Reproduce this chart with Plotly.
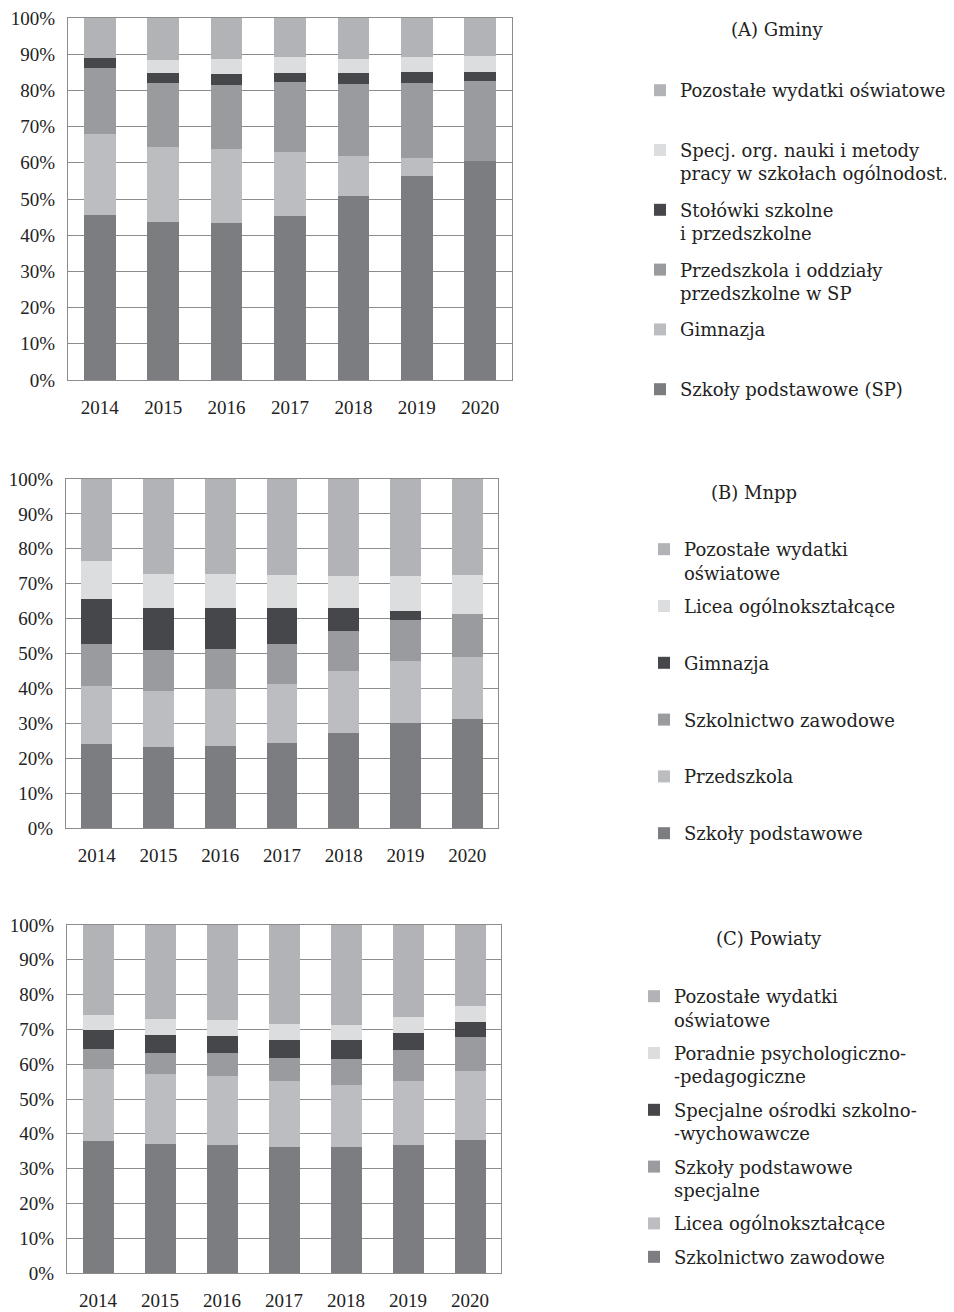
import plotly.graph_objects as go

years = ["2014", "2015", "2016", "2017", "2018", "2019", "2020"]

# (A) Gminy - udzialy w %
gm_sp = [45.5, 43.6, 43.5, 45.2, 50.7, 56.3, 60.6]
gm_gimn = [22.4, 20.8, 20.3, 17.7, 11.2, 5.1, 0.0]
gm_przedszk = [18.4, 17.6, 17.8, 19.3, 20.0, 20.7, 21.9]
gm_stolowki = [2.7, 2.7, 2.8, 2.7, 2.8, 3.0, 2.6]
gm_specj = [0.0, 3.8, 4.4, 4.4, 4.1, 4.1, 4.5]
gm_pozost = [11.0, 11.5, 11.2, 10.7, 11.2, 10.8, 10.4]

# (B) Mnpp
mn_sp = [24.1, 23.1, 23.4, 24.3, 27.3, 30.0, 31.2]
mn_przedszk = [16.5, 16.1, 16.5, 17.0, 17.6, 17.8, 17.7]
mn_zawod = [12.2, 11.8, 11.5, 11.3, 11.5, 11.7, 12.4]
mn_gimn = [12.8, 11.9, 11.6, 10.4, 6.6, 2.7, 0.0]
mn_licea = [10.8, 10.0, 9.8, 9.4, 9.2, 10.0, 11.2]
mn_pozost = [23.6, 27.1, 27.2, 27.6, 27.8, 27.8, 27.5]

# (C) Powiaty
pw_zawod = [37.8, 37.1, 36.8, 36.2, 36.1, 36.8, 38.3]
pw_licea = [20.9, 20.1, 19.9, 19.0, 18.0, 18.4, 19.8]
pw_sps = [5.8, 6.1, 6.4, 6.7, 7.4, 8.9, 9.6]
pw_sosw = [5.3, 5.1, 5.1, 5.1, 5.4, 5.0, 4.5]
pw_poradnie = [4.4, 4.5, 4.5, 4.5, 4.4, 4.5, 4.5]
pw_pozost = [25.8, 27.1, 27.3, 28.5, 28.7, 26.4, 23.3]

# kolory (od dolu slupka)
colors = ["#7c7d81", "#bcbdc1", "#9a9b9f", "#46474a", "#dcdddf", "#b2b3b7"]

TICKFONT = "Liberation Serif"
LEGFONT = "DejaVu Serif"
TXT = "#222222"
W, H = 954, 1312
OFF = 8  # body margin of the html page


def px(x):
    return (x - OFF) / W


def py(y):
    return 1 - (y - OFF) / H


panels = [
    ("x", "y", "legend", [
        ("Szkoły podstawowe (SP)<br> ", gm_sp),
        ("Gimnazja<br> ", gm_gimn),
        ("Przedszkola i oddziały<br>przedszkolne w SP", gm_przedszk),
        ("Stołówki szkolne<br>i przedszkolne", gm_stolowki),
        ("Specj. org. nauki i metody<br>pracy w szkołach ogólnodost.", gm_specj),
        ("Pozostałe wydatki oświatowe<br> ", gm_pozost),
    ]),
    ("x2", "y2", "legend2", [
        ("Szkoły podstawowe<br> ", mn_sp),
        ("Przedszkola<br> ", mn_przedszk),
        ("Szkolnictwo zawodowe<br> ", mn_zawod),
        ("Gimnazja<br> ", mn_gimn),
        ("Licea ogólnokształcące<br> ", mn_licea),
        ("Pozostałe wydatki<br>oświatowe", mn_pozost),
    ]),
    ("x3", "y3", "legend3", [
        ("Szkolnictwo zawodowe", pw_zawod),
        ("Licea ogólnokształcące", pw_licea),
        ("Szkoły podstawowe<br>specjalne", pw_sps),
        ("Specjalne ośrodki szkolno-<br>-wychowawcze", pw_sosw),
        ("Poradnie psychologiczno-<br>-pedagogiczne", pw_poradnie),
        ("Pozostałe wydatki<br>oświatowe", pw_pozost),
    ]),
]

fig = go.Figure()
for xa, ya, lg, series in panels:
    for i, (name, vals) in enumerate(series):
        fig.add_trace(go.Bar(
            x=years, y=vals, name=name,
            xaxis=xa, yaxis=ya, legend=lg,
            legendgroup=lg + str(i), legendrank=100 - i,
            marker=dict(color=colors[i], line=dict(width=0)),
        ))


def xax(x0, x1, anchor):
    return dict(domain=[px(x0), px(x1)], anchor=anchor, showgrid=False, showline=True,
                linecolor="#8c8c8c", linewidth=1.3, mirror=True, ticks="",
                automargin=False, ticklabeloverflow="allow",
                tickfont=dict(family=TICKFONT, size=19, color=TXT), ticklabelstandoff=10)


def yax(y0, y1, anchor):
    return dict(domain=[py(y1), py(y0)], anchor=anchor, range=[0, 100], dtick=10,
                ticksuffix="%", showgrid=True, gridcolor="#8c8c8c", gridwidth=1.3,
                showline=True, linecolor="#8c8c8c", linewidth=1.3, mirror=True,
                zeroline=False, ticks="", automargin=False, ticklabeloverflow="allow",
                tickfont=dict(family=TICKFONT, size=19, color=TXT), ticklabelstandoff=8)


def leg(x, y, gap):
    return dict(x=px(x), y=py(y), xanchor="left", yanchor="top", valign="top",
                traceorder="grouped", tracegroupgap=gap,
                font=dict(family=LEGFONT, size=18, color=TXT),
                bgcolor="rgba(0,0,0,0)", itemclick=False)


def title(text, x, y):
    return dict(text=text, x=px(x), y=py(y), xref="paper", yref="paper",
                xanchor="center", yanchor="middle", showarrow=False,
                font=dict(family=LEGFONT, size=18, color=TXT))


fig.update_layout(
    width=W, height=H,
    margin=dict(l=0, r=0, t=0, b=0),
    paper_bgcolor="white", plot_bgcolor="white",
    barmode="stack", bargap=0.5,
    xaxis=xax(68, 512, "y"),
    yaxis=yax(18, 380, "x"),
    xaxis2=xax(66, 498, "y2"),
    yaxis2=yax(479, 828, "x2"),
    xaxis3=xax(67, 501, "y3"),
    yaxis3=yax(925, 1273, "x3"),
    legend=leg(640, 72, 10),
    legend2=leg(644, 531, 7),
    legend3=leg(634, 978, 7),
    annotations=[
        title("(A) Gminy", 777, 30),
        title("(B) Mnpp", 754, 493),
        title("(C) Powiaty", 769, 938),
    ],
)

fig.write_html("out.html")
